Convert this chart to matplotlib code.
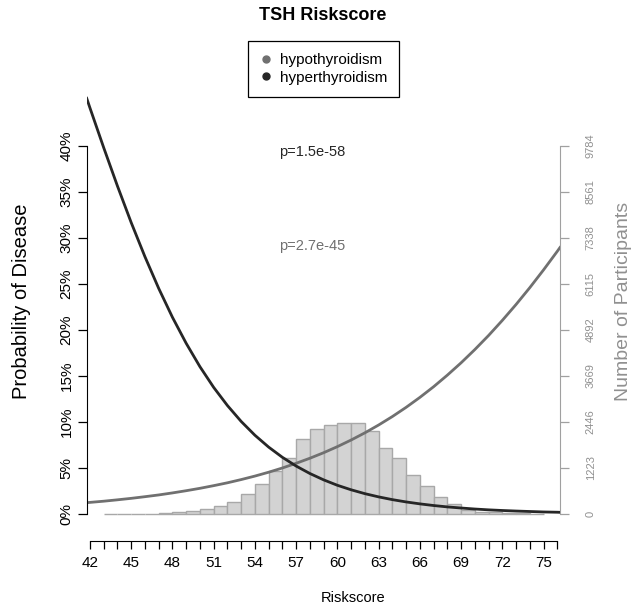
import matplotlib
matplotlib.use('Agg')
import matplotlib.pyplot as plt
from matplotlib.lines import Line2D

plt.rcParams['font.family'] = ['Liberation Sans', 'DejaVu Sans']

# fitted probability curves at each riskscore
riskscore = [41.76, 42, 43, 44, 45, 46, 47, 48, 49, 50, 51, 52, 53, 54, 55, 56, 57, 58,
             59, 60, 61, 62, 63, 64, 65, 66, 67, 68, 69, 70, 71, 72, 73, 74, 75, 76, 76.2]
p_hypo = [0.0123, 0.0126, 0.0139, 0.0154, 0.0170, 0.0188, 0.0207, 0.0229, 0.0253, 0.0279,
          0.0308, 0.0339, 0.0374, 0.0412, 0.0454, 0.0500, 0.0551, 0.0606, 0.0666, 0.0732,
          0.0804, 0.0882, 0.0967, 0.1059, 0.1159, 0.1267, 0.1383, 0.1509, 0.1643, 0.1787,
          0.1940, 0.2104, 0.2277, 0.2460, 0.2653, 0.2855, 0.2897]
p_hyper = [0.4519, 0.4413, 0.3981, 0.3564, 0.3167, 0.2796, 0.2452, 0.2138, 0.1855, 0.1601,
           0.1376, 0.1179, 0.1006, 0.0856, 0.0727, 0.0616, 0.0521, 0.0440, 0.0371, 0.0312,
           0.0263, 0.0221, 0.0186, 0.0156, 0.0131, 0.0110, 0.0092, 0.0077, 0.0065, 0.0054,
           0.0045, 0.0038, 0.0032, 0.0027, 0.0022, 0.0019, 0.0018]

# histogram of participants (bins of width 1)
bin_left = list(range(43, 75))
counts = [4, 6, 8, 12, 18, 45, 80, 133, 213, 318, 528, 790, 1151, 1481, 1986, 2252,
          2359, 2420, 2420, 2215, 1763, 1489, 1045, 753, 452, 266, 106, 60, 45, 30, 20, 10]

pct_ticks = [0, 0.05, 0.10, 0.15, 0.20, 0.25, 0.30, 0.35, 0.40]
pct_labels = ['0%', '5%', '10%', '15%', '20%', '25%', '30%', '35%', '40%']
count_ticks = [0, 1223, 2446, 3669, 4892, 6115, 7338, 8561, 9784]
x_labelled = list(range(42, 76, 3))
x_minor = list(range(42, 77))

c_hypo = '#707070'
c_hyper = '#262626'
c_right = '#a0a0a0'

W, H = 633, 606
fig = plt.figure(figsize=(W / 100, H / 100), dpi=100)
ax = fig.add_axes([86.7 / W, (H - 531) / H, 473.3 / W, 441 / H])
ax2 = ax.twinx()

ymin, ymax = -0.0185, 0.4609
ax.set_xlim(41.76, 76.2)
ax.set_ylim(ymin, ymax)
ax2.set_ylim(ymin * 9784 / 0.4, ymax * 9784 / 0.4)

# histogram behind the curves
ax2.bar(bin_left, counts, width=1, align='edge', color='#d3d3d3',
        edgecolor='#a8a8a8', linewidth=1)
ax.set_zorder(ax2.get_zorder() + 1)
ax.patch.set_visible(False)

ax.plot(riskscore, p_hypo, color=c_hypo, lw=2)
ax.plot(riskscore, p_hyper, color=c_hyper, lw=2)

ax.text(58.15, 0.393, 'p=1.5e-58', color=c_hyper, fontsize=10.5, ha='center', va='center')
ax.text(58.15, 0.291, 'p=2.7e-45', color=c_hypo, fontsize=10.5, ha='center', va='center')

# left axis
for s in ['top', 'right']:
    ax.spines[s].set_visible(False)
ax.spines['left'].set_bounds(0, 0.4)
ax.spines['bottom'].set_position(('outward', 7.2))
ax.spines['bottom'].set_bounds(42, 76)
ax.set_yticks(pct_ticks)
ax.set_yticklabels(pct_labels, rotation=90, va='center', fontsize=11)
ax.set_xticks(x_labelled)
ax.set_xticklabels([str(v) for v in x_labelled], fontsize=11)
ax.set_xticks(x_minor, minor=True)
ax.tick_params(axis='y', length=6.5, width=0.9, pad=3)
ax.tick_params(axis='x', which='both', length=6, width=0.9, pad=5)

# right axis
for s in ['top', 'left', 'bottom']:
    ax2.spines[s].set_visible(False)
ax2.spines['right'].set_bounds(0, 9784)
ax2.spines['right'].set_color(c_right)
ax2.set_yticks(count_ticks)
ax2.set_yticklabels([str(v) for v in count_ticks], rotation=90, va='center',
                    fontsize=8, color='#909090')
ax2.tick_params(axis='y', length=6.5, width=0.9, color=c_right, pad=12)

fig.text(323 / W, 1 - 16 / H, 'TSH Riskscore', fontsize=13, fontweight='bold',
         ha='center', va='center')
fig.text(22 / W, 1 - 301 / H, 'Probability of Disease', rotation=90, fontsize=14.5,
         ha='center', va='center')
fig.text(623 / W, 1 - 301 / H, 'Number of Participants', rotation=90, fontsize=14,
         color='#909090', ha='center', va='center')
fig.text(353 / W, 1 - 598 / H, 'Riskscore', fontsize=10.5, ha='center', va='center')

handles = [Line2D([], [], marker='o', ls='', color=c_hypo, markersize=5),
           Line2D([], [], marker='o', ls='', color=c_hyper, markersize=5)]
leg = fig.legend(handles, ['hypothyroidism', 'hyperthyroidism'], loc='upper center',
                 bbox_to_anchor=(323.5 / W, 1 - 40.7 / H), fontsize=11, frameon=True,
                 fancybox=False, edgecolor='black', framealpha=1, handlelength=0.8,
                 handletextpad=0.5, borderpad=0.8, labelspacing=0.25, borderaxespad=0)
leg.get_frame().set_linewidth(0.9)

fig.savefig('out.png', dpi=100)
